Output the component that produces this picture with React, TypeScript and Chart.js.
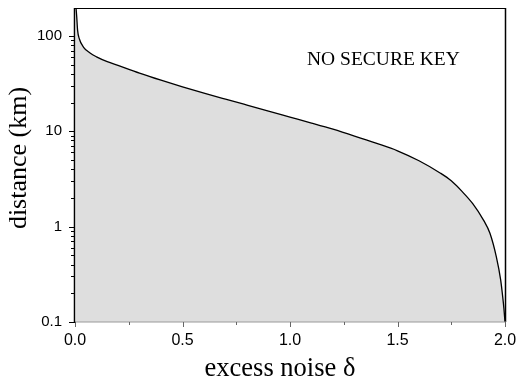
import { useEffect, useRef } from "react";
import { Chart, registerables } from "chart.js";

Chart.register(...registerables);

const excessNoise = [0.005, 0.008, 0.012, 0.02, 0.04, 0.07, 0.1, 0.15, 0.2, 0.3, 0.4, 0.5, 0.6, 0.7, 0.8, 0.9, 1.0, 1.1, 1.2, 1.3, 1.4, 1.5, 1.6, 1.7, 1.75, 1.8, 1.85, 1.9, 1.93, 1.96, 1.98, 1.99, 1.995, 2.0];
const distanceKm = [195, 158.5, 114.8, 93.3, 75.9, 66.1, 60.3, 53.7, 49.0, 40.7, 34.3, 29.2, 25.1, 21.7, 18.8, 16.3, 14.1, 12.2, 10.5, 8.91, 7.5, 6.24, 4.9, 3.63, 3.02, 2.34, 1.74, 1.17, 0.851, 0.479, 0.275, 0.178, 0.138, 0.1];

const xTickValues = [0, 0.5, 1.0, 1.5, 2.0];
const xMinorTickValues = [0.25, 0.75, 1.25, 1.75];
const yTickValues = [0.1, 1, 10, 100];
const yTickLabels = ["0.1", "1", "10", "100"];

const xTitle = "excess noise \u03b4";
const yTitle = "distance (km)";
const regionLabel = "NO SECURE KEY";

const decorPlugin = {
  id: "decor",
  afterDatasetsDraw(chart: any) {
    const { ctx, chartArea: a, scales } = chart;
    const x = scales.x;
    const y = scales.y;
    ctx.save();
    ctx.strokeStyle = "#000";
    ctx.lineWidth = 1;
    ctx.beginPath();
    ctx.moveTo(a.left, a.top + 0.5);
    ctx.lineTo(a.right + 1, a.top + 0.5);
    ctx.stroke();
    ctx.lineWidth = 1.5;
    ctx.beginPath();
    ctx.moveTo(a.right + 0.5, a.top);
    ctx.lineTo(a.right + 0.5, a.bottom);
    ctx.stroke();
    ctx.strokeStyle = "#9a9a9a";
    ctx.lineWidth = 1.2;
    ctx.beginPath();
    ctx.moveTo(a.left, a.bottom);
    ctx.lineTo(a.right + 1, a.bottom);
    ctx.stroke();
    ctx.strokeStyle = "#666";
    ctx.lineWidth = 1;
    xTickValues.forEach((v) => {
      const px = Math.round(x.getPixelForValue(v)) + 0.5;
      ctx.beginPath();
      ctx.moveTo(px, a.bottom);
      ctx.lineTo(px, a.bottom + 5);
      ctx.stroke();
    });
    xMinorTickValues.forEach((v) => {
      const px = Math.round(x.getPixelForValue(v)) + 0.5;
      ctx.beginPath();
      ctx.moveTo(px, a.bottom);
      ctx.lineTo(px, a.bottom + 3);
      ctx.stroke();
    });
    ctx.strokeStyle = "#000";
    ctx.lineWidth = 1.5;
    ctx.beginPath();
    ctx.moveTo(a.left - 0.5, a.top);
    ctx.lineTo(a.left - 0.5, a.bottom + 1);
    ctx.stroke();
    ctx.lineWidth = 1;
    yTickValues.forEach((d) => {
      for (let m = 1; m <= 9; m++) {
        const v = d * m;
        if (v > y.max) break;
        const py = Math.round(y.getPixelForValue(v)) + 0.5;
        const len = m === 1 ? 6 : 4;
        ctx.beginPath();
        ctx.moveTo(a.left - len, py);
        ctx.lineTo(a.left, py);
        ctx.stroke();
      }
    });
    ctx.fillStyle = "#000";
    ctx.font = '19.5px "Liberation Serif"';
    ctx.textAlign = "left";
    ctx.textBaseline = "alphabetic";
    ctx.fillText(regionLabel, 307, 65);
    ctx.font = '26.5px "Liberation Serif"';
    ctx.textAlign = "center";
    ctx.fillText(xTitle, 280, 376);
    ctx.font = '26px "Liberation Serif"';
    ctx.translate(25.5, 158);
    ctx.rotate(-Math.PI / 2);
    ctx.fillText(yTitle, 0, 0);
    ctx.restore();
  },
};

export default function App() {
  const ref = useRef<HTMLCanvasElement>(null);
  useEffect(() => {
    const canvas = ref.current;
    if (!canvas) return;
    const chart = new Chart(canvas, {
      type: "line",
      data: {
        datasets: [
          {
            data: excessNoise.map((v, i) => ({ x: v, y: distanceKm[i] })),
            borderColor: "#000",
            borderWidth: 1.3,
            backgroundColor: "#dedede",
            fill: "start",
            pointRadius: 0,
            cubicInterpolationMode: "monotone",
          },
        ],
      },
      options: {
        animation: false,
        responsive: false,
        layout: { padding: { top: 8, right: 11, left: 0, bottom: 0 } },
        plugins: { legend: { display: false }, tooltip: { enabled: false } },
        scales: {
          x: {
            type: "linear",
            min: 0,
            max: 2,
            grid: { display: false, drawTicks: false },
            border: { display: false },
            afterBuildTicks: (s: any) => {
              s.ticks = xTickValues.map((v) => ({ value: v }));
            },
            afterFit: (s: any) => {
              s.height = 59;
              s.paddingLeft = 0;
              s.paddingRight = 0;
            },
            ticks: {
              autoSkip: false,
              maxRotation: 0,
              padding: 9,
              color: "#000",
              font: { family: '"Liberation Sans"', size: 16 },
              callback: (v: any) => Number(v).toFixed(1),
            },
          },
          y: {
            type: "logarithmic",
            min: 0.1,
            max: 196,
            grid: { display: false, drawTicks: false },
            border: { display: false },
            afterBuildTicks: (s: any) => {
              s.ticks = yTickValues.map((v) => ({ value: v }));
            },
            afterFit: (s: any) => {
              s.width = 75;
              s.paddingTop = 0;
              s.paddingBottom = 0;
            },
            ticks: {
              autoSkip: false,
              padding: 13,
              color: "#000",
              font: { family: '"Liberation Sans"', size: 15 },
              callback: (v: any) => {
                const i = yTickValues.indexOf(Number(v));
                return i >= 0 ? yTickLabels[i] : "";
              },
            },
          },
        },
      },
      plugins: [decorPlugin],
    });
    return () => chart.destroy();
  }, []);
  return (
    <div style={{ position: "fixed", left: 0, top: 0, width: 516, height: 381, background: "#fff" }}>
      <canvas ref={ref} width={516} height={381} style={{ display: "block" }} />
    </div>
  );
}
